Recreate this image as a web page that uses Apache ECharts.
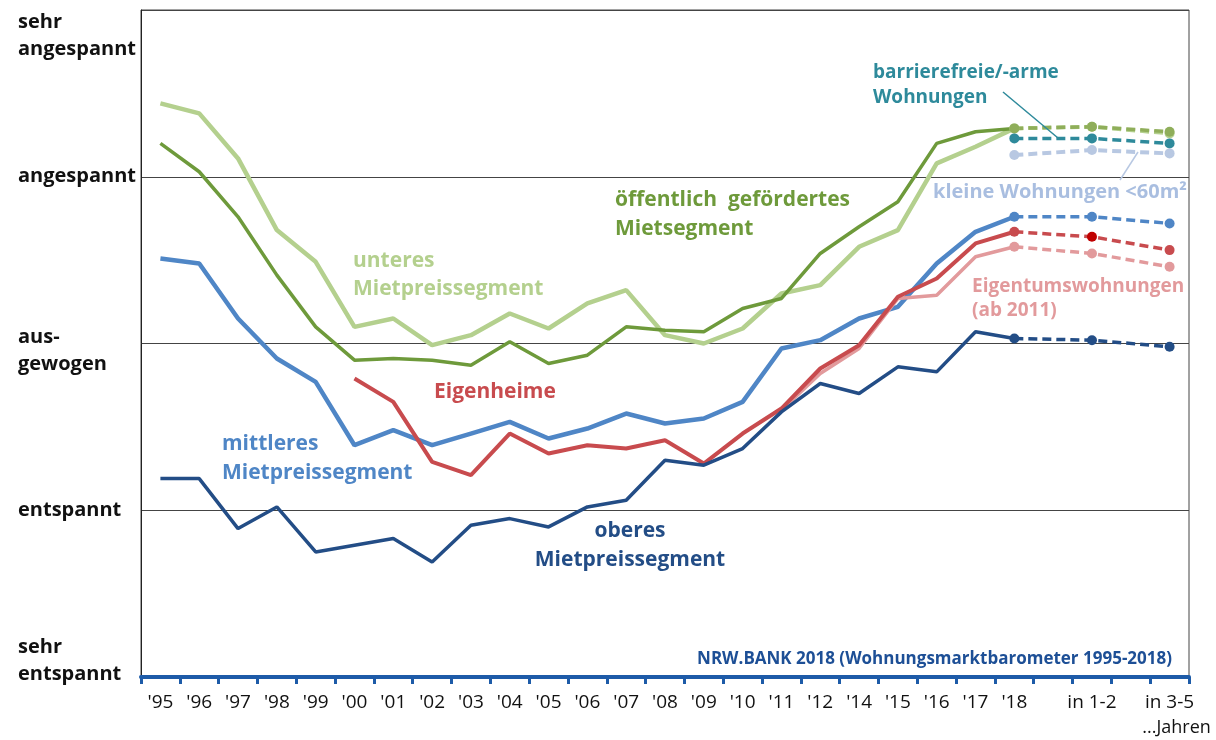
<!DOCTYPE html>
<html>
<head>
<meta charset="utf-8">
<script src="https://cdn.jsdelivr.net/npm/echarts@6/dist/echarts.min.js"></script>
<style>
  html, body { margin: 0; padding: 0; background: #fff; }
  #chart { width: 1216px; height: 740px; }
</style>
</head>
<body>
<div id="chart"></div>
<script>
// Kategorien: Jahre, danach Lücken und die Prognose-Zeitpunkte
var categories = ["'95", "'96", "'97", "'98", "'99", "'00", "'01", "'02", "'03", "'04", "'05", "'06",
  "'07", "'08", "'09", "'10", "'11", "'12", "'14", "'15", "'16", "'17", "'18", "", "in 1-2", "", "in 3-5"];

// 0 = sehr entspannt ... 4 = sehr angespannt
var levelLabels = ['sehr entspannt', 'entspannt', 'ausgewogen', 'angespannt', 'sehr angespannt'];

// Werte '95 - '18
var unteres = [3.44, 3.38, 3.11, 2.68, 2.49, 2.10, 2.15, 1.99, 2.05, 2.18, 2.09, 2.24, 2.32, 2.05, 2.00, 2.09, 2.30, 2.35, 2.58, 2.68, 3.08, 3.18, 3.29];
var oeffentlich = [3.20, 3.03, 2.76, 2.41, 2.10, 1.90, 1.91, 1.90, 1.87, 2.01, 1.88, 1.93, 2.10, 2.08, 2.07, 2.21, 2.27, 2.54, 2.70, 2.85, 3.20, 3.27, 3.29];
var mittleres = [2.51, 2.48, 2.15, 1.91, 1.77, 1.39, 1.48, 1.39, 1.46, 1.53, 1.43, 1.49, 1.58, 1.52, 1.55, 1.65, 1.97, 2.02, 2.15, 2.22, 2.48, 2.67, 2.76];
var eigenheime = [null, null, null, null, null, 1.79, 1.65, 1.29, 1.21, 1.46, 1.34, 1.39, 1.37, 1.42, 1.28, 1.46, 1.61, 1.85, 1.99, 2.28, 2.39, 2.60, 2.67];
var eigentum = [null, null, null, null, null, null, null, null, null, null, null, null, null, null, null, null, 1.60, 1.82, 1.97, 2.27, 2.29, 2.52, 2.58];
var oberes = [1.19, 1.19, 0.89, 1.02, 0.75, 0.79, 0.83, 0.69, 0.91, 0.95, 0.90, 1.02, 1.06, 1.30, 1.27, 1.37, 1.59, 1.76, 1.70, 1.86, 1.83, 2.07, 2.03];

// Prognose: '18, in 1-2, in 3-5
var progUnteres = [3.29, 3.30, 3.26];
var progOeffentlich = [3.29, 3.30, 3.27];
var progBarrierefrei = [3.23, 3.23, 3.20];
var progKlein = [3.13, 3.16, 3.14];
var progMittleres = [2.76, 2.76, 2.72];
var progEigenheime = [2.67, 2.64, 2.56];
var progEigentum = [2.58, 2.54, 2.46];
var progOberes = [2.03, 2.02, 1.98];

var FONT = '"Open Sans", "Noto Sans", sans-serif';

function prog(vals) {
  // Prognosewerte auf die Kategorien '18, in 1-2, in 3-5 legen
  var d = [];
  for (var i = 0; i < categories.length; i++) d.push(null);
  d[22] = vals[0];
  d[24] = vals[1];
  d[26] = vals[2];
  return d;
}

function solid(name, data, color, width) {
  return {
    name: name, type: 'line', data: data, symbol: 'none', smooth: false,
    lineStyle: { color: color, width: width }, z: 3
  };
}

function dashed(name, vals, color, width, midColor) {
  var d = prog(vals).map(function (v, i) {
    if (v === null) return null;
    if (i === 24 && midColor) return { value: v, itemStyle: { color: midColor } };
    return v;
  });
  return {
    name: name, type: 'line', data: d, connectNulls: true,
    symbol: 'circle', symbolSize: 10,
    itemStyle: { color: color },
    lineStyle: { color: color, width: width, type: [9, 5] }, z: 4
  };
}

var chart = echarts.init(document.getElementById('chart'));

var option = {
  animation: false,
  textStyle: { fontFamily: FONT },
  grid: {
    left: 141, right: 27, top: 10, bottom: 63,
    outerBoundsMode: 'none', containLabel: false,
    show: true, borderColor: '#444', borderWidth: 1
  },
  xAxis: {
    type: 'category',
    data: categories,
    boundaryGap: true,
    axisLine: { lineStyle: { color: '#1d5ba8', width: 4 } },
    axisTick: { show: true, interval: 0, length: 7, lineStyle: { color: '#1d5ba8', width: 3 } },
    axisLabel: {
      interval: 0, margin: 13, color: '#111', fontSize: 19, fontFamily: FONT,
      formatter: function (v) {
        if (v === 'in 3-5') return '{a|in 3-5}\n{j|...Jahren}';
        return '{a|' + v + '}';
      },
      rich: {
        a: { fontSize: 19, color: '#111', fontFamily: FONT, lineHeight: 25 },
        j: { fontSize: 18, color: '#111', fontFamily: FONT, lineHeight: 25, padding: [0, 0, 0, 14] }
      }
    },
    splitLine: { show: false }
  },
  yAxis: {
    type: 'value', min: 0, max: 4, interval: 1,
    axisLine: { show: true, lineStyle: { color: '#222', width: 1 } },
    axisTick: { show: false },
    splitLine: { show: true, lineStyle: { color: '#444', width: 1 } },
    axisLabel: {
      align: 'left', margin: 123,
      formatter: function (v) {
        var t = levelLabels[v];
        if (v === 4) return '{s51| }\n{b|sehr}\n{b|angespannt}';
        if (v === 2) return '{s15| }\n{b|aus-}\n{b|gewogen}';
        if (v === 0) return '{b|sehr}\n{b|entspannt}\n{s33| }';
        return '{b|' + t + '}';
      },
      rich: {
        b: { fontSize: 20, fontWeight: 'bold', color: '#111', lineHeight: 27, fontFamily: FONT },
        s51: { fontSize: 1, lineHeight: 51 },
        s15: { fontSize: 1, lineHeight: 15 },
        s33: { fontSize: 1, lineHeight: 33 }
      }
    }
  },
  series: [
    solid('unteres Mietpreissegment', unteres, '#b4d08e', 4.5),
    solid('öffentlich gefördertes Mietsegment', oeffentlich, '#6e9a3b', 3.5),
    solid('mittleres Mietpreissegment', mittleres, '#4f86c6', 4.5),
    solid('Eigentumswohnungen', eigentum, '#e29a9c', 3.5),
    solid('Eigenheime', eigenheime, '#c84b4e', 4),
    solid('oberes Mietpreissegment', oberes, '#234d86', 3.5),
    dashed('Prognose unteres', progUnteres, '#b4d08e', 4),
    dashed('Prognose öffentlich', progOeffentlich, '#8fae5a', 3.5),
    dashed('Prognose barrierefrei', progBarrierefrei, '#2e8a9b', 3.5),
    dashed('Prognose klein', progKlein, '#b8c8e2', 4),
    dashed('Prognose mittleres', progMittleres, '#4f86c6', 3.5),
    dashed('Prognose Eigenheime', progEigenheime, '#c84b4e', 3.5, '#c00000'),
    dashed('Prognose Eigentum', progEigentum, '#e29a9c', 3.5),
    dashed('Prognose oberes', progOberes, '#234d86', 3.5)
  ],
  graphic: [
    { type: 'text', x: 353, y: 247, z: 10, style: { text: 'unteres\nMietpreissegment', fill: '#b4d08e', font: 'bold 21px ' + FONT, lineHeight: 28, textAlign: 'left', textVerticalAlign: 'top' } },
    { type: 'text', x: 615, y: 186, z: 10, style: { text: 'öffentlich  gefördertes\nMietsegment', fill: '#6e9a3b', font: 'bold 21px ' + FONT, lineHeight: 29, textAlign: 'left', textVerticalAlign: 'top' } },
    { type: 'text', x: 434, y: 378, z: 10, style: { text: 'Eigenheime', fill: '#c84b4e', font: 'bold 21px ' + FONT, lineHeight: 28, textAlign: 'left', textVerticalAlign: 'top' } },
    { type: 'text', x: 222, y: 430, z: 10, style: { text: 'mittleres\nMietpreissegment', fill: '#4f86c6', font: 'bold 21px ' + FONT, lineHeight: 29, textAlign: 'left', textVerticalAlign: 'top' } },
    { type: 'text', x: 630, y: 517, z: 10, style: { text: 'oberes\nMietpreissegment', fill: '#234d86', font: 'bold 21px ' + FONT, lineHeight: 29, textAlign: 'center', textVerticalAlign: 'top' } },
    { type: 'text', x: 873, y: 60, z: 10, style: { text: 'barrierefreie/-arme\nWohnungen', fill: '#2e8a9b', font: 'bold 19px ' + FONT, lineHeight: 25, textAlign: 'left', textVerticalAlign: 'top' } },
    { type: 'text', x: 933, y: 180, z: 10, style: { text: 'kleine Wohnungen <60m²', fill: '#a9bee0', font: 'bold 20px ' + FONT, lineHeight: 24, textAlign: 'left', textVerticalAlign: 'top' } },
    { type: 'text', x: 972, y: 275, z: 10, style: { text: 'Eigentumswohnungen\n(ab 2011)', fill: '#e29a9c', font: 'bold 19px ' + FONT, lineHeight: 24, textAlign: 'left', textVerticalAlign: 'top' } },
    { type: 'text', x: 1172, y: 659, z: 10, style: { text: 'NRW.BANK 2018 (Wohnungsmarktbarometer 1995-2018)', fill: '#1d4f96', font: 'bold 17px ' + FONT, textAlign: 'right', textVerticalAlign: 'middle' } },
    { type: 'line', z: 10, shape: { x1: 1003, y1: 92, x2: 1058, y2: 138 }, style: { stroke: '#2e8a9b', lineWidth: 1.5 } },
    { type: 'line', z: 10, shape: { x1: 1120, y1: 180, x2: 1138, y2: 152 }, style: { stroke: '#b8c8e2', lineWidth: 1.5 } }
  ]
};

chart.setOption(option);
</script>
</body>
</html>
